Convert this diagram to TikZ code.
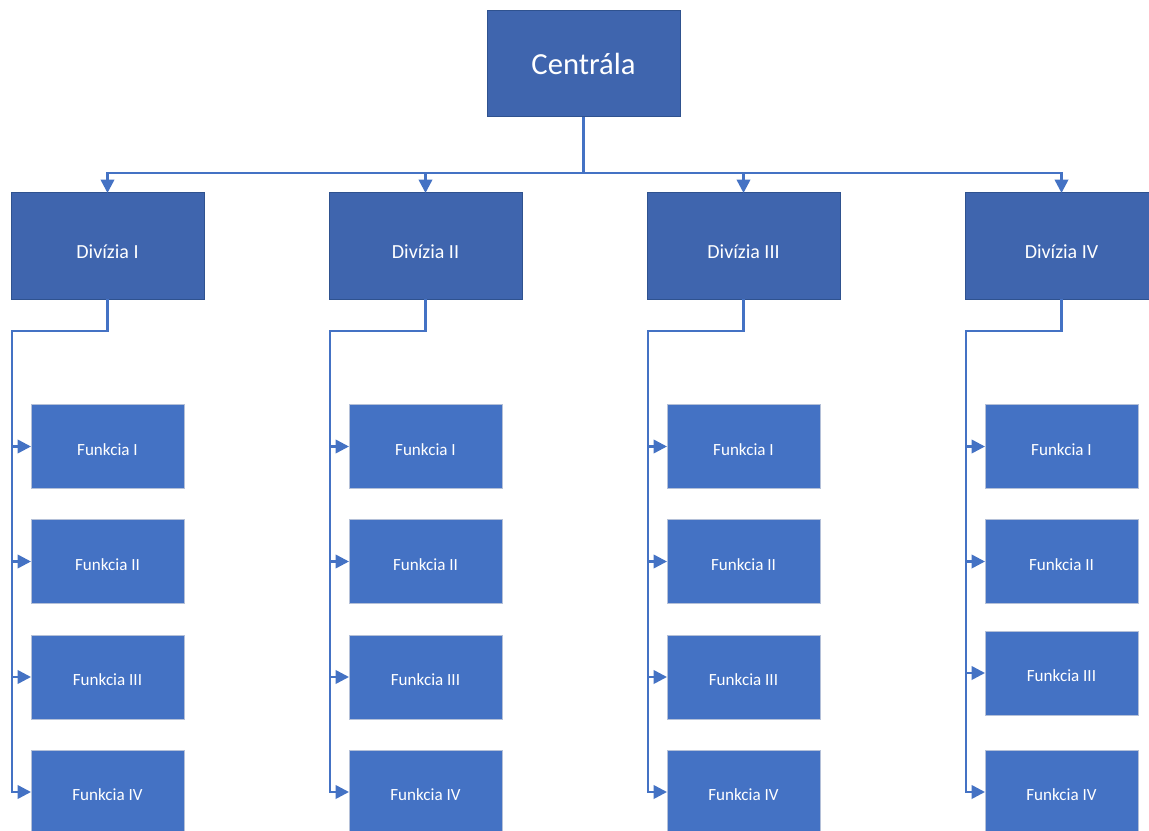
\documentclass[tikz,border=0pt]{standalone}
\usepackage{fontspec}
\setmainfont{Carlito}
\usetikzlibrary{arrows.meta}
\definecolor{headfill}{HTML}{3F65AE}
\definecolor{headline}{HTML}{2F528F}
\definecolor{funcfill}{HTML}{4472C4}
\definecolor{funcline}{HTML}{B4C0D8}
\definecolor{connc}{HTML}{4472C4}
\begin{document}
\begin{tikzpicture}[x=0.75pt,y=-0.75pt,
  headbox/.style={draw=headline,fill=headfill,line width=0.75pt,text=white,inner sep=0pt,outer sep=0pt,
    minimum width=193*0.75pt,minimum height=106*0.75pt},
  divbox/.style={headbox},
  divlbl/.style={text=white,inner sep=0pt,yshift=-4.5pt,font=\fontsize{15}{18}\selectfont},
  funcbox/.style={draw=funcline,fill=funcfill,line width=0.75pt,text=white,inner sep=0pt,outer sep=0pt,
    minimum width=153*0.75pt,minimum height=84*0.75pt},
  funclbl/.style={text=white,inner sep=0pt,yshift=-2.2pt,font=\fontsize{12.8}{15}\selectfont},
  conn/.style={draw=connc,line width=1.9pt},
  arr/.style={conn,-{Triangle[length=10pt,width=10pt]}}]
\clip (0,0) rectangle (1149,831);
\fill[white] (0,0) rectangle (1149,831);
\node[headbox,font=\fontsize{23}{28}\selectfont] (cen) at (583.5,64) {Centrála};
\coordinate (bus) at (583.5,173);
\foreach \i/\x/\t in {1/107.5/Divízia I,2/425.5/Divízia II,3/743.5/Divízia III,4/1061.5/Divízia IV}{
  \node[divbox,label={[divlbl]center:\t}] (d\i) at (\x,246) {};
  \draw[arr] (cen.south) -- (bus) -| (d\i.north);
  \coordinate (c\i) at (\x-95.5,331);
}
\foreach \i/\x in {1/107.5,2/425.5,3/743.5,4/1061.5}{
  \node[funcbox,label={[funclbl]center:Funkcia I}] (f\i1) at (\x,446.5) {};
  \node[funcbox,label={[funclbl]center:Funkcia II}] (f\i2) at (\x,561.5) {};
  \node[funcbox,label={[funclbl]center:Funkcia IV}] (f\i4) at (\x,792) {};
  \foreach \j in {1,2,4}{
    \draw[arr] (d\i.south) |- (c\i) |- (f\i\j.west);
  }
}
\foreach \i/\x/\y in {1/107.5/677,2/425.5/677,3/743.5/677,4/1061.5/673}{
  \node[funcbox,label={[funclbl]center:Funkcia III}] (f\i3) at (\x,\y) {};
  \draw[arr] (d\i.south) |- (c\i) |- (f\i3.west);
}
\end{tikzpicture}
\end{document}
